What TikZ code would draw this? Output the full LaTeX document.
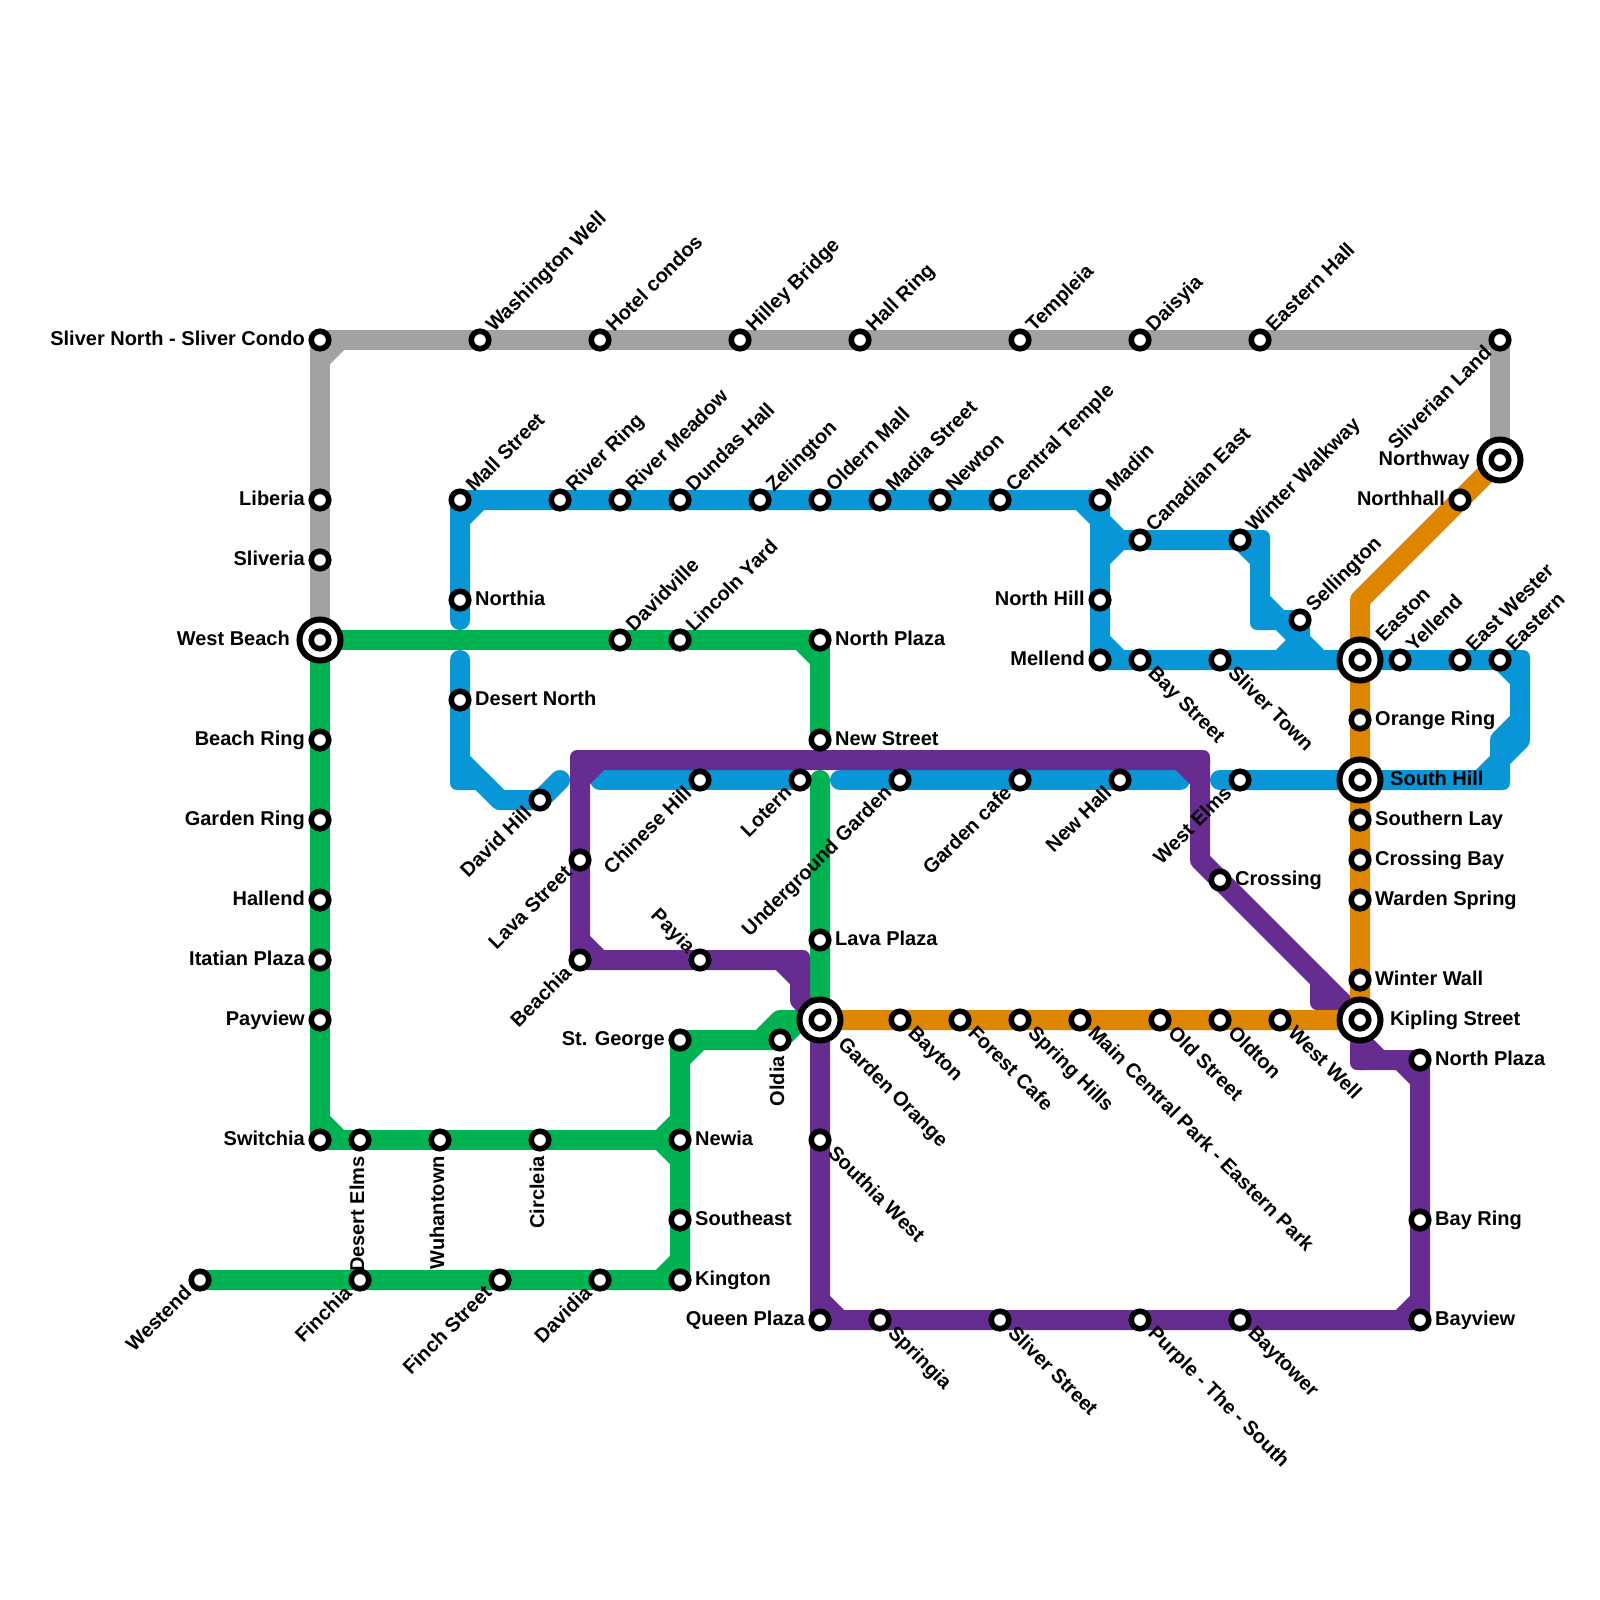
\documentclass[tikz,border=0pt]{standalone}
\usepackage{fontspec}
\setmainfont{Liberation Sans}
\usetikzlibrary{backgrounds}
\definecolor{cgray}{HTML}{A2A2A2}
\definecolor{cblue}{HTML}{0896D7}
\definecolor{cgreen}{HTML}{00B251}
\definecolor{cpurple}{HTML}{662C90}
\definecolor{corange}{HTML}{DF8600}
\tikzset{
  metro/.style={line width=20pt,line cap=round,line join=round},
  dot/.style={circle,draw=black,fill=white,line width=5.6pt,inner sep=0pt,minimum size=17.5pt},
  ring/.style={circle,draw=black,fill=white,line width=6pt,inner sep=0pt,minimum size=41pt},
  lab/.style={inner sep=0pt,font=\bfseries\fontsize{20}{20}\selectfont},
  posR/.style={lab,anchor=base west,xshift=15pt,yshift=-5.5pt},
  posL/.style={lab,anchor=base east,xshift=-15pt,yshift=-5.5pt},
  posUR/.style={lab,anchor=base west,xshift=14pt,yshift=7pt,rotate=45},
  posDR/.style={lab,anchor=base west,xshift=7pt,yshift=-14pt,rotate=-45},
  posDL/.style={lab,anchor=base east,xshift=-7pt,yshift=-14pt,rotate=45},
  posUL/.style={lab,anchor=base east,xshift=-13pt,yshift=6pt,rotate=-45},
  posV/.style={lab,anchor=base east,xshift=4pt,yshift=-16pt,rotate=90},
  bigR/.style={lab,anchor=base west,xshift=30pt,yshift=-5.5pt},
  bigL/.style={lab,anchor=base east,xshift=-30pt,yshift=-5.5pt},
  bigUR/.style={lab,anchor=base west,xshift=24pt,yshift=17pt,rotate=45},
  bigDR/.style={lab,anchor=base west,xshift=17pt,yshift=-25pt,rotate=-45},
}
\newcommand{\stn}[5]{\node[dot] (#1) at (#2,#3) {}; \node[#5] (#1-label) at (#2,#3) {#4};}
\newcommand{\bigstn}[5]{\node[ring] (#1) at (#2,#3) {}; \node[dot] (#1-inner) at (#2,#3) {}; \node[#5] (#1-label) at (#2,#3) {#4};}
\newcommand{\crn}[3]{\fill[#1,rounded corners=7pt] (#2-10,#3-10) rectangle (#2+10,#3+10);}
\begin{document}
\begin{tikzpicture}[x=1pt,y=-1pt]
\useasboundingbox (0,0) rectangle (1600,1600);
\foreach \px/\py in {320/360,340/340,460/620,460/520,480/500,1080/500,1100/520,1120/540,1100/560,1100/640,1120/660,1260/540,1260/620,1240/560,1260/560,1260/600,1280/620,1300/640,1320/660,1280/660,1300/660,1520/660,1520/680,1520/720,1520/740,1500/740,1500/760,1500/780,1480/780,460/660,460/760,460/780,480/780,500/800,560/780,600/780,840/780,1180/780,1220/780,320/1120,340/1140,800/640,820/660,820/780,660/1140,680/1120,680/1160,660/1280,680/1260,680/1060,700/1040,760/1040,780/1020,800/1020,580/760,600/760,1180/760,1200/760,1200/780,1200/860,580/780,580/940,600/960,780/960,800/960,800/980,800/1000,820/1300,840/1320,1400/1320,1420/1300,1400/1060,1420/1080,1360/1040,1360/1060,1380/1060,1320/980,1320/1000,1340/1000,1360/600}
  \coordinate (p\px-\py) at (\px,\py);

% Silver line stations
\stn{slivernorth}{320}{340}{Sliver North - Sliver Condo}{posL}
\stn{washington}{480}{340}{Washington Well}{posUR}
\stn{hotel}{600}{340}{Hotel condos}{posUR}
\stn{hilley}{740}{340}{Hilley Bridge}{posUR}
\stn{hallring}{860}{340}{Hall Ring}{posUR}
\stn{templeia}{1020}{340}{Templeia}{posUR}
\stn{daisyia}{1140}{340}{Daisyia}{posUR}
\stn{easternhall}{1260}{340}{Eastern Hall}{posUR}
\stn{sliverian}{1500}{340}{Sliverian Land}{posDL}
\stn{liberia}{320}{500}{Liberia}{posL}
\stn{sliveria}{320}{560}{Sliveria}{posL}
\bigstn{westbeach}{320}{640}{West Beach}{bigL}
\bigstn{northway}{1500}{460}{Northway}{bigL}

% Blue line stations
\stn{mall}{460}{500}{Mall Street}{posUR}
\stn{riverring}{560}{500}{River Ring}{posUR}
\stn{rivermeadow}{620}{500}{River Meadow}{posUR}
\stn{dundas}{680}{500}{Dundas Hall}{posUR}
\stn{zelington}{760}{500}{Zelington}{posUR}
\stn{oldern}{820}{500}{Oldern Mall}{posUR}
\stn{madia}{880}{500}{Madia Street}{posUR}
\stn{newton}{940}{500}{Newton}{posUR}
\stn{central}{1000}{500}{Central Temple}{posUR}
\stn{madin}{1100}{500}{Madin}{posUR}
\stn{canadian}{1140}{540}{Canadian East}{posUR}
\stn{winterwalk}{1240}{540}{Winter Walkway}{posUR}
\stn{sellington}{1300}{620}{Sellington}{posUR}
\stn{northia}{460}{600}{Northia}{posR}
\stn{northhill}{1100}{600}{North Hill}{posL}
\stn{mellend}{1100}{660}{Mellend}{posL}
\stn{bay}{1140}{660}{Bay Street}{posDR}
\stn{slivertown}{1220}{660}{Sliver Town}{posDR}
\bigstn{easton}{1360}{660}{Easton}{bigUR}
\stn{yellend}{1400}{660}{Yellend}{posUR}
\stn{eastwester}{1460}{660}{East Wester}{posUR}
\stn{eastern}{1500}{660}{Eastern}{posUR}
\stn{desertnorth}{460}{700}{Desert North}{posR}
\stn{davidhill}{540}{800}{David Hill}{posDL}
\stn{chinese}{700}{780}{Chinese Hill}{posDL}
\stn{lotern}{800}{780}{Lotern}{posDL}
\stn{underground}{900}{780}{Underground Garden}{posDL}
\stn{gardencafe}{1020}{780}{Garden cafe}{posDL}
\stn{newhall}{1120}{780}{New Hall}{posDL}
\stn{westelms}{1240}{780}{West Elms}{posDL}
\bigstn{southhill}{1360}{780}{South Hill}{bigR}

% Green line stations
\stn{davidville}{620}{640}{Davidville}{posUR}
\stn{lincoln}{680}{640}{Lincoln Yard}{posUR}
\stn{northplaza}{820}{640}{North Plaza}{posR}
\stn{newstreet}{820}{740}{New Street}{posR}
\stn{lavaplaza}{820}{940}{Lava Plaza}{posR}
\stn{beachring}{320}{740}{Beach Ring}{posL}
\stn{gardenring}{320}{820}{Garden Ring}{posL}
\stn{hallend}{320}{900}{Hallend}{posL}
\stn{itatian}{320}{960}{Itatian Plaza}{posL}
\stn{payview}{320}{1020}{Payview}{posL}
\stn{switchia}{320}{1140}{Switchia}{posL}
\stn{desertelms}{360}{1140}{Desert Elms}{posV}
\stn{wuhantown}{440}{1140}{Wuhantown}{posV}
\stn{circleia}{540}{1140}{Circleia}{posV}
\stn{newia}{680}{1140}{Newia}{posR}
\stn{stgeorge}{680}{1040}{St. George}{posL}
\stn{oldia}{780}{1040}{Oldia}{posV}
\stn{southeast}{680}{1220}{Southeast}{posR}
\stn{kington}{680}{1280}{Kington}{posR}
\stn{westend}{200}{1280}{Westend}{posDL}
\stn{finchia}{360}{1280}{Finchia}{posDL}
\stn{finchstreet}{500}{1280}{Finch Street}{posDL}
\stn{davidia}{600}{1280}{Davidia}{posDL}

% Purple line stations
\stn{lavastreet}{580}{860}{Lava Street}{posDL}
\stn{beachia}{580}{960}{Beachia}{posDL}
\stn{payia}{700}{960}{Payia}{posUL}
\stn{crossing}{1220}{880}{Crossing}{posR}
\bigstn{gardenorange}{820}{1020}{Garden Orange}{bigDR}
\stn{southia}{820}{1140}{Southia West}{posDR}
\stn{queenplaza}{820}{1320}{Queen Plaza}{posL}
\stn{springia}{880}{1320}{Springia}{posDR}
\stn{sliverstreet}{1000}{1320}{Sliver Street}{posDR}
\stn{purplesouth}{1140}{1320}{Purple - The - South}{posDR}
\stn{baytower}{1240}{1320}{Baytower}{posDR}
\stn{bayview}{1420}{1320}{Bayview}{posR}
\stn{bayring}{1420}{1220}{Bay Ring}{posR}
\stn{northplazae}{1420}{1060}{North Plaza}{posR}

% Orange line stations
\stn{northhall}{1460}{500}{Northhall}{posL}
\stn{orangering}{1360}{720}{Orange Ring}{posR}
\stn{southernlay}{1360}{820}{Southern Lay}{posR}
\stn{crossingbay}{1360}{860}{Crossing Bay}{posR}
\stn{warden}{1360}{900}{Warden Spring}{posR}
\stn{winterwall}{1360}{980}{Winter Wall}{posR}
\bigstn{kipling}{1360}{1020}{Kipling Street}{bigR}
\stn{bayton}{900}{1020}{Bayton}{posDR}
\stn{forestcafe}{960}{1020}{Forest Cafe}{posDR}
\stn{springhills}{1020}{1020}{Spring Hills}{posDR}
\stn{maincentral}{1080}{1020}{Main Central Park - Eastern Park}{posDR}
\stn{oldstreet}{1160}{1020}{Old Street}{posDR}
\stn{oldton}{1220}{1020}{Oldton}{posDR}
\stn{westwell}{1280}{1020}{West Well}{posDR}

\begin{scope}[on background layer]
\fill[white] (0,0) rectangle (1600,1600);
% Silver
\draw[metro,cgray] (westbeach.center)--(sliveria.center)--(liberia.center)--(slivernorth.center)--(washington.center)--(hotel.center)--(hilley.center)--(hallring.center)--(templeia.center)--(daisyia.center)--(easternhall.center)--(sliverian.center)--(northway.center);
\draw[metro,cgray] (p320-360)--(p340-340);
% Blue
\draw[metro,cblue] (p460-620)--(northia.center)--(mall.center)--(riverring.center)--(rivermeadow.center)--(dundas.center)--(zelington.center)--(oldern.center)--(madia.center)--(newton.center)--(central.center)--(madin.center)--(northhill.center)--(mellend.center)--(bay.center)--(slivertown.center)--(easton.center)--(yellend.center)--(eastwester.center)--(eastern.center)--(p1520-660)--(p1520-740)--(p1500-760);
\draw[metro,cblue] (p460-520)--(p480-500);
\draw[metro,cblue] (p1080-500)--(p1100-520)--(p1120-540)--(canadian.center)--(winterwalk.center)--(p1260-540)--(p1260-620)--(sellington.center)--(p1300-660);
\draw[metro,cblue] (p1100-560)--(p1120-540);
\draw[metro,cblue] (p1100-640)--(p1120-660);
\draw[metro,cblue] (winterwalk.center)--(p1260-560);
\draw[metro,cblue] (p1260-600)--(p1280-620)--(p1300-640)--(p1320-660);
\draw[metro,cblue] (p1280-660)--(p1300-640);
\draw[metro,cblue] (eastern.center)--(p1520-680);
\draw[metro,cblue] (p1520-720)--(p1500-740)--(p1500-780)--(southhill.center)--(westelms.center)--(p1220-780);
\draw[metro,cblue] (p1480-780)--(p1500-760);
\draw[metro,cblue] (p460-660)--(desertnorth.center)--(p460-780)--(p480-780)--(p500-800)--(davidhill.center)--(p560-780);
\draw[metro,cblue] (p460-760)--(p500-800);
\draw[metro,cblue] (p600-780)--(chinese.center)--(lotern.center);
\draw[metro,cblue] (p840-780)--(underground.center)--(gardencafe.center)--(newhall.center)--(p1180-780);
\crn{cblue}{460}{780}\crn{cblue}{1260}{540}\crn{cblue}{1260}{620}\crn{cblue}{1520}{660}\crn{cblue}{1500}{780}
% Green
\draw[metro,cgreen] (westbeach.center)--(davidville.center)--(lincoln.center)--(northplaza.center)--(newstreet.center);
\draw[metro,cgreen] (p800-640)--(p820-660);
\draw[metro,cgreen] (p820-780)--(lavaplaza.center)--(gardenorange.center)--(p780-1020)--(p760-1040)--(stgeorge.center)--(newia.center)--(southeast.center)--(kington.center)--(davidia.center)--(finchstreet.center)--(finchia.center)--(westend.center);
\draw[metro,cgreen] (p760-1040)--(oldia.center)--(p800-1020);
\draw[metro,cgreen] (westbeach.center)--(beachring.center)--(gardenring.center)--(hallend.center)--(itatian.center)--(payview.center)--(switchia.center)--(desertelms.center)--(wuhantown.center)--(circleia.center)--(newia.center);
\draw[metro,cgreen] (p320-1120)--(p340-1140);
\draw[metro,cgreen] (p660-1140)--(p680-1120);
\draw[metro,cgreen] (p660-1140)--(p680-1160);
\draw[metro,cgreen] (p660-1280)--(p680-1260);
\draw[metro,cgreen] (p680-1060)--(p700-1040);
% Purple
\draw[metro,cpurple] (northplazae.center)--(bayring.center)--(bayview.center)--(baytower.center)--(purplesouth.center)--(sliverstreet.center)--(springia.center)--(queenplaza.center)--(southia.center)--(gardenorange.center)--(p800-1000)--(p800-960)--(payia.center)--(beachia.center)--(lavastreet.center)--(p580-760)--(p1200-760)--(p1200-860)--(crossing.center)--(kipling.center)--(p1360-1060)--(northplazae.center);
\draw[metro,cpurple] (p580-780)--(p600-760);
\draw[metro,cpurple] (p1180-760)--(p1200-780);
\draw[metro,cpurple] (p580-940)--(p600-960);
\draw[metro,cpurple] (p780-960)--(p800-980);
\draw[metro,cpurple] (p820-1300)--(p840-1320);
\draw[metro,cpurple] (p1400-1320)--(p1420-1300);
\draw[metro,cpurple] (p1400-1060)--(p1420-1080);
\draw[metro,cpurple] (p1360-1040)--(p1380-1060);
\draw[metro,cpurple] (p1320-980)--(p1320-1000)--(p1340-1000);
\crn{cpurple}{580}{760}\crn{cpurple}{1200}{760}\crn{cpurple}{800}{960}\crn{cpurple}{1320}{1000}\crn{cpurple}{1360}{1060}
% Orange
\draw[metro,corange] (northway.center)--(northhall.center)--(p1360-600)--(easton.center)--(orangering.center)--(southhill.center)--(southernlay.center)--(crossingbay.center)--(warden.center)--(winterwall.center)--(kipling.center)--(westwell.center)--(oldton.center)--(oldstreet.center)--(maincentral.center)--(springhills.center)--(forestcafe.center)--(bayton.center)--(gardenorange.center);
\end{scope}
\end{tikzpicture}
\end{document}
